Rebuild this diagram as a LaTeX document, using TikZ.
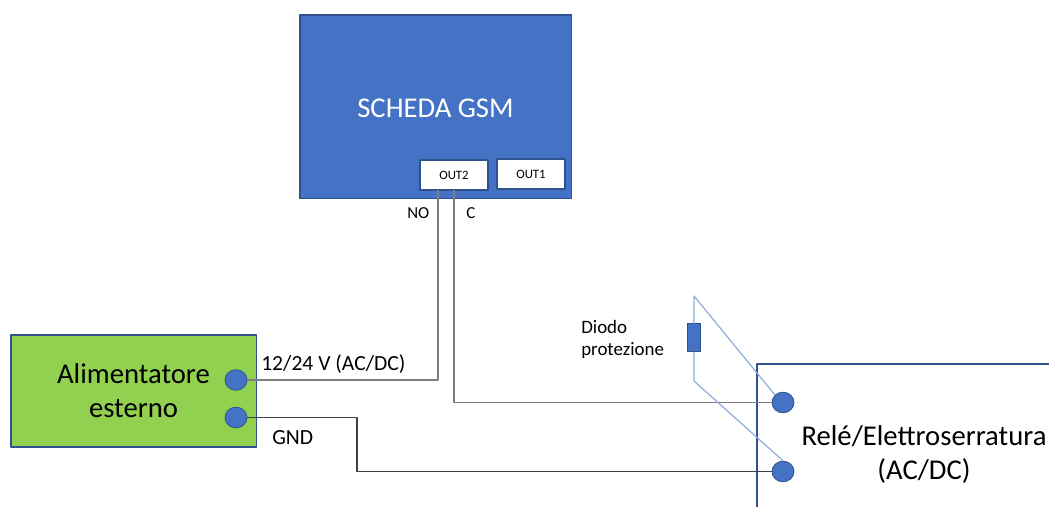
\documentclass[tikz,border=0pt]{standalone}
\usepackage{fontspec}
\setmainfont{Carlito}
\definecolor{boxblue}{HTML}{4472C4}
\definecolor{edgeblue}{HTML}{2F528F}
\definecolor{wireblue}{HTML}{8FAADC}
\definecolor{boxgreen}{HTML}{92D050}
\definecolor{wiregray}{HTML}{7F7F7F}
\definecolor{wiredark}{HTML}{404040}
\tikzset{
	block/.style={draw=edgeblue, line width=0.8pt, anchor=north west, inner sep=0pt, outer sep=0pt},
	outbox/.style={block, fill=white, minimum width=51pt, minimum height=22.5pt, font=\fontsize{9.6}{11}\selectfont},
	pin/.style={ellipse, draw=edgeblue, fill=boxblue, line width=0.6pt, minimum width=16.5pt, minimum height=15.5pt, inner sep=0pt},
	wire/.style={line width=0.9pt},
	label/.style={font=\fontsize{12.6}{15}\selectfont, inner sep=0pt},
	biglabel/.style={font=\fontsize{16.2}{19}\selectfont, inner sep=0pt}
}
\usetikzlibrary{shapes.geometric}
\begin{document}
\begin{tikzpicture}[x=0.75pt, y=-0.75pt, line join=round]
	\useasboundingbox (0,0) rectangle (1049,507);
	% boxes
	\node[block, fill=boxblue, minimum width=203.5pt, minimum height=137.5pt] (scheda) at (300,15) {};
	\node[text=white, font=\fontsize{21.5}{26}\selectfont] (schedatxt) at (435.5,108) {SCHEDA GSM};
	\node[outbox] (outdue) at (420,160) {OUT2};
	\node[outbox] (outuno) at (497,159) {OUT1};
	\node[block, fill=boxgreen, minimum width=184pt, minimum height=84pt] (alim) at (11,335) {};
	\node[align=center, font=\fontsize{21.5}{25.5}\selectfont] (alimtxt) at (133.5,391) {Alimentatore\\esterno};
	% rele, open on the right
	\coordinate (releA) at (757,507);
	\coordinate (releB) at (757,364);
	\coordinate (releC) at (1049,364);
	\draw[edgeblue, line width=1pt] (releA)--(releB)--(releC);
	\node[align=center, font=\fontsize{21.5}{25.5}\selectfont] (reletxt) at (924,455) {Relé/Elettroserratura\\(AC/DC)};
	% pins
	\node[pin] (pinv) at (236,380) {};
	\node[pin] (ping) at (236,417.5) {};
	\node[pin] (pinc) at (783,402.5) {};
	\node[pin] (pinn) at (783,471.5) {};
	% wires
	\coordinate (nostart) at (438,190);
	\coordinate (cstart) at (454,190);
	\coordinate (gndmid) at (357,417.5);
	\draw[wiregray, wire] (nostart)|-(pinv.east);
	\draw[wiregray, wire] (cstart)|-(pinc.west);
	\draw[wiredark, wire] (ping.east)--(gndmid)|-(pinn.west);
	% diode
	\node[draw=edgeblue, fill=boxblue, line width=0.7pt, minimum width=10pt, minimum height=20.5pt, inner sep=0pt] (diodo) at (694,337.5) {};
	\coordinate (ditop) at (694,296);
	\coordinate (dibot) at (694,381);
	\draw[wireblue, wire] (diodo.north)--(ditop)--(pinc.north west);
	\draw[wireblue, wire] (diodo.south)--(dibot)--(pinn.north);
	% labels
	\node[label, anchor=west] (lbno) at (407,213) {NO};
	\node[label, anchor=west] (lbc) at (466,213) {C};
	\node[biglabel, anchor=west] (lbv) at (261,364) {12/24 V (AC/DC)};
	\node[biglabel, anchor=west] (lbg) at (272,438) {GND};
	\node[anchor=north west, align=left, inner sep=0pt, font=\fontsize{14.2}{16.5}\selectfont] (lbd) at (581,320) {Diodo\\protezione};
\end{tikzpicture}
\end{document}
